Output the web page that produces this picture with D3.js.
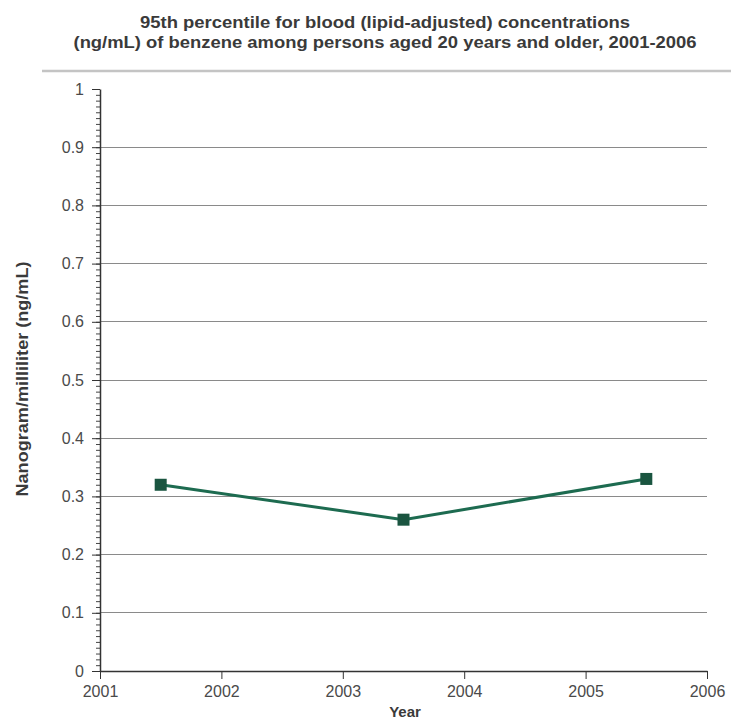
<!DOCTYPE html>
<html><head><meta charset="utf-8">
<script src="https://cdn.jsdelivr.net/npm/d3@7"></script>
<style>body{margin:0;background:#fff;}svg{display:block;font-family:"Liberation Sans",Arial,sans-serif;}</style>
</head><body><svg id="c" width="731" height="722"></svg>
<script>
const titleLines = ["95th percentile for blood (lipid-adjusted) concentrations","(ng/mL) of benzene among persons aged 20 years and older, 2001-2006"];
const titleWidths = [490, 623];
const years = [2001.5, 2003.5, 2005.5];
const values = [0.32, 0.26, 0.33];
const xTicks = [2001, 2002, 2003, 2004, 2005, 2006];
const yTicks = [0, 0.1, 0.2, 0.3, 0.4, 0.5, 0.6, 0.7, 0.8, 0.9, 1];
const xLabel = "Year";
const yLabel = "Nanogram/milliliter (ng/mL)";

const svg = d3.select("#c");
const x = d3.scaleLinear().domain([2001, 2006]).range([100, 707]);
const y = d3.scaleLinear().domain([0, 1]).range([671, 89]);

svg.append("g").selectAll("text").data(titleLines).join("text")
  .attr("x", 385).attr("y", (d,i)=>28+i*20).attr("text-anchor","middle")
  .attr("font-size", 16).attr("font-weight","bold").attr("fill","#3a3a3a")
  .attr("textLength",(d,i)=>titleWidths[i]).attr("lengthAdjust","spacingAndGlyphs").text(d=>d);
svg.append("line").attr("x1",42).attr("x2",731).attr("y1",71).attr("y2",71)
  .attr("stroke","#c4c4c4").attr("stroke-width",2.5);

// gridlines
svg.append("g").selectAll("line").data(yTicks.filter(d=>d>0 && d<1)).join("line")
  .attr("x1", x(2001)).attr("x2", x(2006)).attr("y1", d=>y(d)).attr("y2", d=>y(d))
  .attr("stroke","#8a8a8a").attr("stroke-width",1).attr("shape-rendering","crispEdges");

// y axis minor
const minor = d3.range(0, 101).map(i=>i/100);
svg.append("g").attr("transform",`translate(${x(2001)},0)`)
  .call(d3.axisLeft(y).tickValues(minor).tickSize(4).tickFormat(""))
  .call(g=>g.select(".domain").remove())
  .selectAll("line").attr("stroke","#444");
// y axis major
const ya = svg.append("g").attr("transform",`translate(${x(2001)},0)`)
  .call(d3.axisLeft(y).tickValues(yTicks).tickSize(8).tickPadding(8).tickFormat(d=>d===0||d===1?d3.format("d")(d):d3.format(".1f")(d)).tickSizeOuter(0));
ya.select(".domain").attr("stroke","#333").attr("stroke-width",1.5);
ya.selectAll("line").attr("stroke","#333");
ya.selectAll("text").attr("font-size",16).attr("fill","#4a4a4a").attr("font-family","Liberation Sans, Arial, sans-serif");

// x axis
const xa = svg.append("g").attr("transform",`translate(0,${y(0)})`)
  .call(d3.axisBottom(x).tickValues(xTicks).tickSize(8).tickPadding(7).tickFormat(d3.format("d")).tickSizeOuter(0));
xa.select(".domain").attr("stroke","#333").attr("stroke-width",1.5);
xa.selectAll("line").attr("stroke","#333");
xa.selectAll("text").attr("font-size",16).attr("fill","#4a4a4a").attr("font-family","Liberation Sans, Arial, sans-serif");

// labels
svg.append("text").attr("x",405).attr("y",717).attr("text-anchor","middle")
  .attr("font-size",15).attr("font-weight","bold").attr("fill","#3a3a3a").text(xLabel);
svg.append("text").attr("transform","translate(28,379) rotate(-90)").attr("text-anchor","middle")
  .attr("font-size",16).attr("font-weight","bold").attr("fill","#3a3a3a")
  .attr("textLength",235).attr("lengthAdjust","spacingAndGlyphs").text(yLabel);

// line
const pts = years.map((d,i)=>[d, values[i]]);
svg.append("path").datum(pts)
  .attr("d", d3.line().x(d=>x(d[0])).y(d=>y(d[1])))
  .attr("fill","none").attr("stroke","#1d6b50").attr("stroke-width",3);
svg.append("g").selectAll("rect").data(pts).join("rect")
  .attr("x", d=>x(d[0])-6).attr("y", d=>y(d[1])-6).attr("width",12).attr("height",12)
  .attr("fill","#1a5540");
</script></body></html>
